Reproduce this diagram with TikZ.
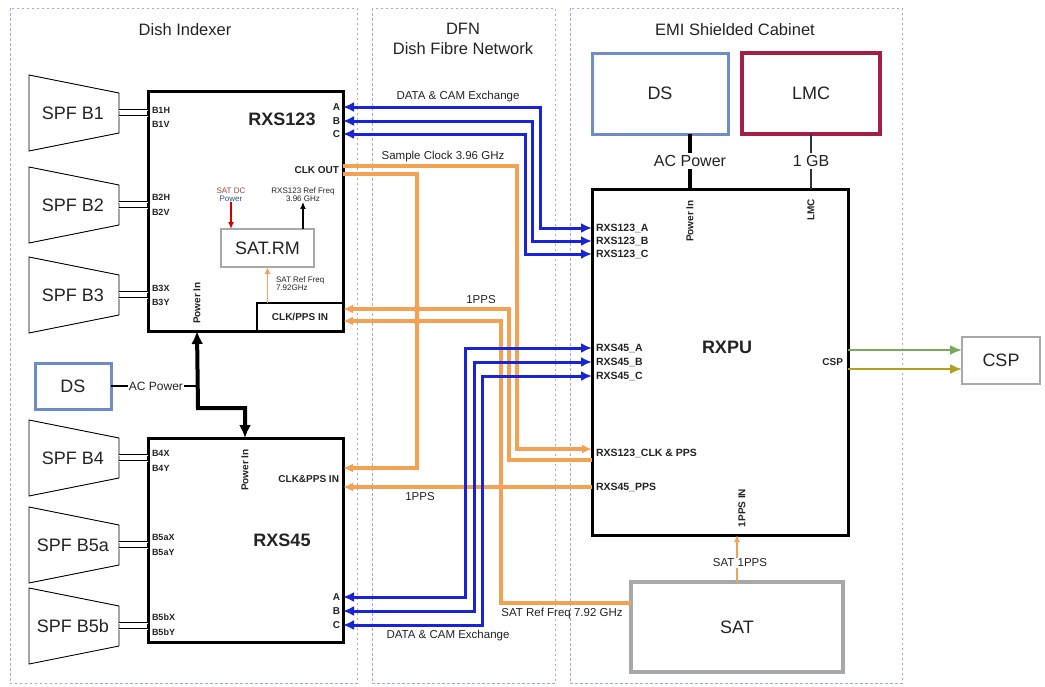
\documentclass[tikz,border=0pt]{standalone}
\usepackage{fontspec}
\setmainfont{Liberation Sans}
\usetikzlibrary{arrows.meta,calc}
\newcommand{\fsz}[1]{\fontsize{#1}{#1}\selectfont}
\definecolor{orng}{RGB}{242,162,82}
\definecolor{blu}{RGB}{25,35,215}
\definecolor{grn}{RGB}{120,170,90}
\definecolor{olv}{RGB}{175,160,30}
\definecolor{frm}{RGB}{160,172,205}
\definecolor{dsb}{RGB}{110,140,200}
\definecolor{lmcr}{RGB}{165,30,70}
\definecolor{gbox}{RGB}{168,168,168}
\definecolor{txt}{RGB}{35,35,35}
\newcommand{\horn}[3]{%
  \draw[hornline] (29,#2-38) -- (119,#2-20) -- (119,#2+20) -- (29,#2+38) -- cycle;
  \node[hornlbl] (#1) at (73,#2) {#3};
  \coordinate (#1a) at (119,#2-3);
  \coordinate (#1b) at (119,#2+3);
}
\begin{document}
\begin{tikzpicture}[x=1pt,y=-1pt,
  every node/.style={inner sep=0pt, outer sep=0pt, text=txt},
  region/.style={draw=frm, line width=0.9pt, dash pattern=on 2.5pt off 2.5pt},
  title/.style={font=\fsz{16.5}},
  mainbox/.style={draw=black, line width=3pt},
  boxlbl/.style={font=\fsz{18}\bfseries},
  plainlbl/.style={font=\fsz{18}},
  hornline/.style={draw=black, line width=0.9pt},
  hornlbl/.style={font=\fsz{18}},
  feed/.style={draw=black, double, double distance=1pt, line width=0.7pt},
  bport/.style={font=\fsz{9}\bfseries, anchor=west},
  port/.style={font=\fsz{10}\bfseries},
  rport/.style={font=\fsz{10.5}\bfseries, anchor=west},
  vport/.style={font=\fsz{10}\bfseries, rotate=90},
  tiny/.style={font=\fsz{8}, align=center},
  siglbl/.style={font=\fsz{11.5}, fill=white, inner sep=1pt},
  bus/.style={draw=blu, line width=3pt, {Latex[length=11pt,width=10pt]}-{Latex[length=11pt,width=10pt]}},
  sig/.style={draw=orng, line width=3.2pt},
  ot/.style={-{Latex[length=10pt,width=9pt]}},
  pwr/.style={draw=black, line width=4pt},
]
\useasboundingbox (0,0) rectangle (1045,686);

% regions
\draw[region] (10,8) rectangle (357,683);
\draw[region] (372,8) rectangle (555,683);
\draw[region] (570,8) rectangle (902,683);
\node[title] (tdi) at (185,30) {Dish Indexer};
\node[title] (tdfn) at (463,29) {DFN};
\node[title] (tdfn2) at (463,49) {Dish Fibre Network};
\node[title] (temi) at (735,30) {EMI Shielded Cabinet};

% main boxes
\node[mainbox, minimum width=195pt, minimum height=240pt] (rxs123) at (245.5,211) {};
\node[mainbox, minimum width=195pt, minimum height=204pt] (rxs45) at (245.5,540) {};
\node[mainbox, minimum width=256pt, minimum height=346pt] (rxpu) at (720,362) {};
\node[boxlbl] (l123) at (282,119) {RXS123};
\node[boxlbl] (l45) at (282,540) {RXS45};
\node[boxlbl] (lpu) at (727,347) {RXPU};

% other boxes
\node[draw=dsb, line width=3pt, minimum width=136pt, minimum height=81pt, plainlbl] (dst) at (660,93.5) {DS};
\node[draw=lmcr, line width=3.2pt, minimum width=138pt, minimum height=81pt, plainlbl] (lmc) at (811,93.5) {LMC};
\node[draw=dsb, line width=3pt, minimum width=76pt, minimum height=46pt, plainlbl] (dsl) at (73,386) {DS};
\node[draw=gbox, line width=3.2pt, minimum width=212pt, minimum height=90pt, plainlbl] (sat) at (737,627) {SAT};
\node[draw=gbox, line width=2.2pt, minimum width=78pt, minimum height=47pt, plainlbl] (csp) at (1001,360.5) {CSP};
\node[draw=gbox, line width=2.2pt, fill=white, minimum width=93pt, minimum height=38pt, plainlbl] (satrm) at (267.5,248) {SAT.RM};
\node[draw=black, line width=1.3pt, minimum width=86pt, minimum height=28pt, port] (cpin) at (300,317) {CLK/PPS IN};

% horns
\horn{s1}{113}{SPF B1}
\horn{s2}{205}{SPF B2}
\horn{s3}{295}{SPF B3}
\horn{s4}{458}{SPF B4}
\horn{s5}{545}{SPF B5a}
\horn{s6}{626}{SPF B5b}
\foreach \h in {s1,s2,s3}{
  \draw[feed] (\h a) -- (\h a -| rxs123.west);
  \draw[feed] (\h b) -- (\h b -| rxs123.west);
}
\foreach \h in {s4,s5,s6}{
  \draw[feed] (\h a) -- (\h a -| rxs45.west);
  \draw[feed] (\h b) -- (\h b -| rxs45.west);
}

% B port labels
\node[bport] (p1h) at (152,110) {B1H};
\node[bport] (p1v) at (152,124) {B1V};
\node[bport] (p2h) at (152,197) {B2H};
\node[bport] (p2v) at (152,212) {B2V};
\node[bport] (p3x) at (152,288) {B3X};
\node[bport] (p3y) at (152,302) {B3Y};
\node[bport] (p4x) at (152,453) {B4X};
\node[bport] (p4y) at (152,468) {B4Y};
\node[bport] (p5x) at (152,537) {B5aX};
\node[bport] (p5y) at (152,552) {B5aY};
\node[bport] (p6x) at (152,617) {B5bX};
\node[bport] (p6y) at (152,632) {B5bY};

% RXS ports
\node[port, anchor=east] (r1A) at (340,107) {A};
\node[port, anchor=east] (r1B) at (340,121) {B};
\node[port, anchor=east] (r1C) at (340,134) {C};
\node[port, anchor=east] (r2A) at (340,597) {A};
\node[port, anchor=east] (r2B) at (340,611) {B};
\node[port, anchor=east] (r2C) at (340,625) {C};
\node[port, anchor=east] (clko) at (339,170) {CLK OUT};
\node[port, anchor=east] (cpps) at (339,479) {CLK\&PPS IN};
\node[vport] (pw1) at (197,303) {Power In};
\node[vport] (pw2) at (245,470) {Power In};

% RXPU ports
\node[rport] (pA1) at (596,228) {RXS123\_A};
\node[rport] (pA2) at (596,241) {RXS123\_B};
\node[rport] (pA3) at (596,254) {RXS123\_C};
\node[rport] (pB1) at (596,348) {RXS45\_A};
\node[rport] (pB2) at (596,362) {RXS45\_B};
\node[rport] (pB3) at (596,376) {RXS45\_C};
\node[rport] (pclk) at (596,453) {RXS123\_CLK \& PPS};
\node[rport] (ppps) at (596,487) {RXS45\_PPS};
\node[port, anchor=east] (pcsp) at (843,362) {CSP};
\node[vport] (pw3) at (690,221) {Power In};
\node[vport] (plmc) at (811,210) {LMC};
\node[vport] (p1pps) at (742,508) {1PPS IN};

% SAT.RM internals
\node[tiny] (sdc) at (231,195) {\textcolor[RGB]{150,70,50}{SAT DC}\\\textcolor[RGB]{50,80,140}{Power}};
\node[tiny] (rf) at (303,195) {RXS123 Ref Freq\\3.96 GHz};
\node[tiny, anchor=west, align=left] (srf) at (276,284) {SAT Ref Freq\\7.92GHz};
\draw[red!80!black, line width=1.4pt, -{Latex[length=7pt,width=6pt]}] (sdc.south) -- (satrm.north -| sdc.south);
\draw[black, line width=1.4pt, -{Latex[length=7pt,width=6pt]}] (satrm.north -| rf.south) -- (rf.south);
\draw[orng, line width=1.3pt, -{Latex[length=7pt,width=6pt]}] (cpin.north -| satrm.south) -- (satrm.south);

% power
\draw[pwr, {Latex[length=13pt,width=12pt]}-{Latex[length=13pt,width=12pt]}] (rxs123.south -| pw1) -- (198,408) -| (rxs45.north -| pw2);
\draw[draw=black, line width=2.4pt] (dsl.east) -- (dsl.east -| pw1);
\node[font=\fsz{12}, fill=white, inner sep=1pt] (acl) at (156,386) {AC Power};
\draw[pwr] (dst.south -| pw3) -- (rxpu.north -| pw3);
\node[font=\fsz{16}, fill=white, inner sep=2pt] (act) at (690,161) {AC Power};
\draw[draw=black!80, line width=1.3pt] (lmc.south -| plmc) -- (rxpu.north -| plmc);
\node[font=\fsz{16}, fill=white, inner sep=2pt] (gb) at (811,161) {1 GB};

% orange signals
\coordinate (co1) at ($(rxs123.east |- clko)+(0,-4)$);
\coordinate (co2) at ($(rxs123.east |- clko)+(0,4)$);
\draw[sig, ot] (co1) -- (517,166) |- ($(rxpu.west |- pclk)+(0,-4)$);
\draw[sig, ot] (co2) -- (417,174) |- ($(rxs45.east |- cpps)+(0,-11)$);
\draw[sig, ot] ($(rxpu.west |- pclk)+(0,7)$) -- (509,460) |- ($(rxs123.east |- cpin)+(0,-8)$);
\draw[sig, ot] (sat.west |- 0,603) -- (501,603) |- ($(rxs123.east |- cpin)+(0,4)$);
\draw[sig, ot] (rxpu.west |- ppps) -- (rxs45.east |- ppps);
\fill[orng] (417,309) circle (3.6pt) (417,321) circle (3.6pt);
\draw[orng, line width=1.4pt, -{Latex[length=7pt,width=6pt]}] (sat.north) -- (sat.north |- rxpu.south);
\node[siglbl] (s1pps) at (740,563) {SAT 1PPS};

% blue buses
\draw[bus] (rxs123.east |- r1A) -- (540,107) |- (rxpu.west |- pA1);
\draw[bus] (rxs123.east |- r1B) -- (532,121) |- (rxpu.west |- pA2);
\draw[bus] (rxs123.east |- r1C) -- (525,134) |- (rxpu.west |- pA3);
\draw[bus] (rxs45.east |- r2A) -- (465,597) |- (rxpu.west |- pB1);
\draw[bus] (rxs45.east |- r2B) -- (474,611) |- (rxpu.west |- pB2);
\draw[bus] (rxs45.east |- r2C) -- (482,625) |- (rxpu.west |- pB3);

% CSP
\draw[draw=grn, line width=2.2pt, -{Latex[length=12pt,width=10pt]}] (rxpu.east |- 0,350) -- (csp.west |- 0,350);
\draw[draw=olv, line width=2.2pt, -{Latex[length=12pt,width=10pt]}] (rxpu.east |- 0,369) -- (csp.west |- 0,369);

% signal labels
\node[font=\fsz{11.5}] (ldata1) at (458,97) {DATA \& CAM Exchange};
\node[font=\fsz{11.5}] (lsc) at (443,157) {Sample Clock 3.96 GHz};
\node[font=\fsz{11.5}] (l1pps1) at (481,300) {1PPS};
\node[font=\fsz{11.5}] (l1pps2) at (420,497) {1PPS};
\node[font=\fsz{11.5}] (lsatref) at (562,614) {SAT Ref Freq 7.92 GHz};
\node[font=\fsz{11.5}] (ldata2) at (448,636) {DATA \& CAM Exchange};
\end{tikzpicture}
\end{document}
